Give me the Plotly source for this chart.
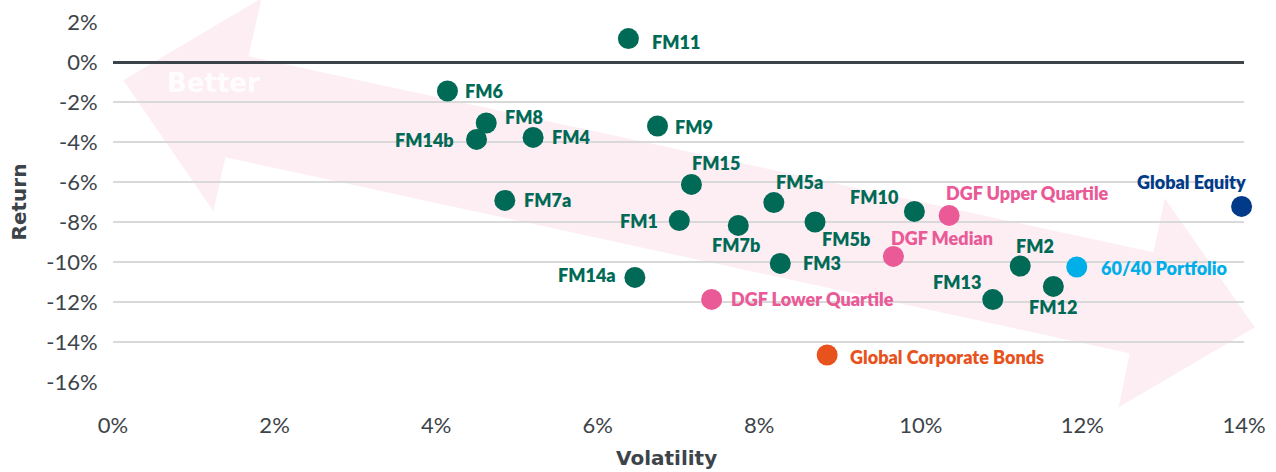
import plotly.graph_objects as go

# fund managers (volatility %, return %)
fm_names = ["FM11", "FM6", "FM8", "FM14b", "FM4", "FM9", "FM15", "FM5a", "FM7a", "FM1",
            "FM7b", "FM5b", "FM3", "FM10", "FM14a", "FM2", "FM12", "FM13"]
fm_vol = [6.38, 4.14, 4.62, 4.50, 5.20, 6.74, 7.16, 8.18, 4.85, 7.01,
          7.74, 8.69, 8.26, 9.92, 6.46, 11.23, 11.64, 10.89]
fm_ret = [1.17, -1.45, -3.05, -3.87, -3.77, -3.20, -6.12, -7.03, -6.92, -7.93,
          -8.17, -8.00, -10.07, -7.47, -10.77, -10.20, -11.22, -11.88]

dgf_names = ["DGF Upper Quartile", "DGF Median", "DGF Lower Quartile"]
dgf_vol = [10.35, 9.66, 7.41]
dgf_ret = [-7.67, -9.72, -11.87]

bench_names = ["Global Equity", "60/40 Portfolio", "Global Corporate Bonds"]
bench_vol = [13.97, 11.93, 8.84]
bench_ret = [-7.22, -10.25, -14.65]
bench_colors = ["#003a88", "#00aee8", "#e8531d"]

x_ticks = [0, 2, 4, 6, 8, 10, 12, 14]
y_ticks = [-16, -14, -12, -10, -8, -6, -4, -2, 0, 2]

# label placement: (anchor side, dx px, dy px downwards) relative to the dot
label_place = {
    "FM11": ("left", 22, 3), "FM6": ("left", 16, 0), "FM8": ("left", 17, -6),
    "FM14b": ("right", -21, 1), "FM4": ("left", 17, 0), "FM9": ("left", 15, 1),
    "FM15": ("left", -1, -21), "FM5a": ("left", 0, -21), "FM7a": ("left", 17, 0),
    "FM1": ("right", -19, 0), "FM7b": ("center", -2, 20), "FM5b": ("left", 5, 17),
    "FM3": ("left", 21, 0), "FM10": ("right", -13, -14), "FM14a": ("right", -17, -2),
    "FM2": ("left", -6, -20), "FM12": ("center", 0, 21), "FM13": ("right", -10, -18),
    "DGF Upper Quartile": ("left", -5, -22), "DGF Median": ("left", -4, -18),
    "DGF Lower Quartile": ("left", 17, 0),
    "Global Equity": ("right", 6, -24), "60/40 Portfolio": ("left", 22, 1),
    "Global Corporate Bonds": ("left", 21, 2),
}

# "Better" arrow outline, in (volatility, return) units
arrow_vol = [0.128, 1.84, 1.677, 12.88, 13.02, 14.135, 12.449, 12.585, 1.392, 1.243]
arrow_ret = [-0.915, 3.19, 0.285, -9.515, -6.815, -13.265, -17.265, -14.565, -4.765, -7.465]

X_MAX, Y_MIN, Y_MAX = 14, -16, 2


def to_paper(v, r):
    return v / X_MAX, (r - Y_MIN) / (Y_MAX - Y_MIN)


pts = [to_paper(v, r) for v, r in zip(arrow_vol, arrow_ret)]
arrow_path = "M " + " L ".join(f"{px:.4f},{py:.4f}" for px, py in pts) + " Z"

GREEN = "#006a56"
PINK = "#ea5a97"
GREY = "#3d4449"

fig = go.Figure()
fig.add_shape(type="path", path=arrow_path, xref="paper", yref="paper",
              fillcolor="#fdeef4", line=dict(width=0), layer="below")

groups = [
    (fm_names, fm_vol, fm_ret, [GREEN] * len(fm_names)),
    (dgf_names, dgf_vol, dgf_ret, [PINK] * len(dgf_names)),
    (bench_names, bench_vol, bench_ret, bench_colors),
]
for names, vol, ret, colors in groups:
    fig.add_trace(go.Scatter(x=vol, y=ret, mode="markers", text=names, hoverinfo="text",
                             marker=dict(size=21, color=colors), cliponaxis=False, showlegend=False))
    for name, v, r, c in zip(names, vol, ret, colors):
        side, dx, dy = label_place[name]
        fig.add_annotation(x=v, y=r, xref="x", yref="y", text=name, showarrow=False,
                           xanchor=side, yanchor="middle", xshift=dx, yshift=-dy,
                           font=dict(family="Lato", size=18, weight=800, color=c))

fig.add_annotation(x=1.24, y=-1.07, xref="x", yref="y", text="Better", showarrow=False,
                   font=dict(family="DejaVu Sans", size=26, weight="bold", color="rgba(255,255,255,0.9)"))

tick_font = dict(family="Lato", size=22, color=GREY)
title_font = dict(family="DejaVu Sans", size=20, weight="bold", color=GREY)

# x title sits a little left of the plot centre in the original
fig.add_annotation(x=0.489, y=-0.212, xref="paper", yref="paper", text="Volatility",
                   showarrow=False, xanchor="center", yanchor="middle", font=title_font)

fig.update_layout(
    width=1276, height=472,
    margin=dict(l=113, r=32, t=22, b=90),
    paper_bgcolor="white",
    plot_bgcolor="rgba(0,0,0,0)",
    xaxis=dict(range=[0, X_MAX], tickvals=x_ticks, ticktext=[f"{v}%" for v in x_ticks],
               showgrid=False, zeroline=False, showline=False, automargin=False,
               ticks="outside", ticklen=24, tickcolor="rgba(0,0,0,0)", tickfont=tick_font),
    yaxis=dict(range=[Y_MIN, Y_MAX], tickvals=y_ticks, ticktext=[f"{v}%" for v in y_ticks],
               showgrid=True, gridcolor="#d9d9d9", gridwidth=1.5, automargin=False,
               zeroline=True, zerolinecolor=GREY, zerolinewidth=3, showline=False,
               ticks="outside", ticklen=10, tickcolor="rgba(0,0,0,0)", tickfont=tick_font,
               title=dict(text="Return", font=title_font, standoff=14)),
)

fig.write_html("out.html", config={"displayModeBar": False},
               post_script="document.body.style.margin='0';")
